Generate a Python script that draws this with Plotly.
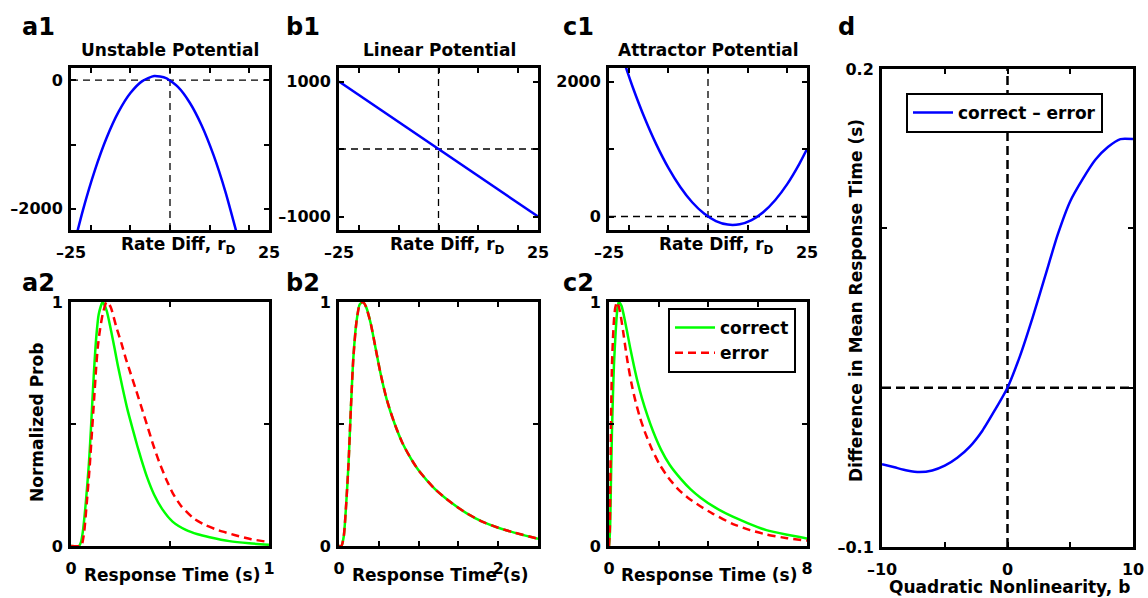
import plotly.graph_objects as go

W, H = 1148, 598
FONT = "DejaVu Sans"

# ---------------- data ----------------
# a1: unstable potential
rd_unstable = [-25, -22, -19, -16, -13, -10, -7, -4, -1, 2, 5, 8, 11, 14, 17]
u_unstable = [-2750, -2024, -1406, -896, -494, -200, -14, 64, 34, -104, -350, -704, -1166, -1736, -2414]
# b1: linear potential
rd_linear = [-25, 25]
u_linear = [1000, -1000]
# c1: attractor potential
rd_attr = [-22, -19, -16, -13, -10, -7, -4, -1, 2, 5, 8, 11, 14, 17, 20, 23, 25]
u_attr = [2429, 1915, 1459, 1061, 720, 437, 211, 43, -67, -120, -115, -53, 67, 245, 480, 773, 1000]

# a2: response-time distributions (unstable)
t_a_correct = [0, 0.04, 0.05, 0.06, 0.075, 0.09, 0.1, 0.107, 0.115, 0.128, 0.14, 0.16, 0.18, 0.203,
               0.22, 0.236, 0.26, 0.285, 0.313, 0.335, 0.355, 0.385, 0.42, 0.46, 0.513, 0.58,
               0.64, 0.70, 0.80, 0.90, 1.0]
p_a_correct = [0, 0, 0.015, 0.06, 0.18, 0.333, 0.47, 0.58, 0.70, 0.86, 0.95, 1.0, 0.965, 0.88,
               0.81, 0.742, 0.65, 0.56, 0.475, 0.41, 0.355, 0.28, 0.21, 0.152, 0.10, 0.066,
               0.048, 0.036, 0.02, 0.011, 0.005]
t_a_error = [0, 0.05, 0.058, 0.067, 0.08, 0.095, 0.106, 0.117, 0.128, 0.136, 0.145, 0.16, 0.18,
             0.20, 0.228, 0.255, 0.278, 0.30, 0.33, 0.363, 0.39, 0.413, 0.445, 0.48, 0.515,
             0.555, 0.62, 0.68, 0.746, 0.83, 0.91, 1.0]
p_a_error = [0, 0, 0.015, 0.06, 0.18, 0.333, 0.47, 0.606, 0.742, 0.82, 0.879, 0.95, 1.0,
             0.98, 0.90, 0.83, 0.765, 0.71, 0.635, 0.55, 0.48, 0.42, 0.345, 0.275, 0.215,
             0.165, 0.113, 0.085, 0.064, 0.044, 0.028, 0.016]

# b2: linear (correct and error identical)
t_b = [0, 0.03, 0.06, 0.09, 0.12, 0.15, 0.18, 0.22, 0.26, 0.30, 0.34, 0.40, 0.46, 0.52, 0.60,
       0.70, 0.80, 0.90, 1.0, 1.2, 1.4, 1.6, 1.8, 2.0, 2.2, 2.5]
p_b_correct = [0, 0, 0.04, 0.17, 0.34, 0.57, 0.77, 0.92, 0.99, 1.0, 0.98, 0.91, 0.81, 0.71, 0.60,
               0.50, 0.42, 0.36, 0.31, 0.235, 0.18, 0.135, 0.10, 0.075, 0.055, 0.03]
p_b_error = [0, 0, 0.04, 0.17, 0.34, 0.57, 0.77, 0.92, 0.99, 1.0, 0.98, 0.91, 0.81, 0.71, 0.60,
             0.50, 0.42, 0.36, 0.31, 0.235, 0.18, 0.135, 0.10, 0.075, 0.055, 0.03]

# c2: attractor
t_c_correct = [0, 0.04, 0.08, 0.12, 0.16, 0.2, 0.27, 0.33, 0.39, 0.5, 0.6, 0.73, 0.85, 1.0, 1.15,
               1.33, 1.55, 1.78, 2.1, 2.45, 2.9, 3.3, 3.7, 4.3, 5.0, 5.6, 6.36, 7.2, 8.0]
p_c_correct = [0, 0.06, 0.27, 0.47, 0.62, 0.742, 0.879, 0.965, 1.0, 0.985, 0.945, 0.879, 0.815,
               0.742, 0.675, 0.606, 0.535, 0.47, 0.395, 0.333, 0.275, 0.232, 0.198, 0.157, 0.12,
               0.094, 0.065, 0.046, 0.031]
t_c_error = [0, 0.03, 0.06, 0.09, 0.12, 0.16, 0.2, 0.25, 0.32, 0.4, 0.48, 0.57, 0.66, 0.75, 0.9,
             1.04, 1.24, 1.44, 1.72, 2.05, 2.4, 2.8, 3.2, 3.66, 4.2, 5.01, 5.7, 6.36, 7.2, 8.0]
p_c_error = [0, 0.06, 0.32, 0.57, 0.742, 0.85, 0.925, 0.975, 1.0, 0.98, 0.94, 0.88, 0.815, 0.755,
             0.67, 0.606, 0.53, 0.47, 0.40, 0.333, 0.28, 0.232, 0.197, 0.165, 0.132, 0.09, 0.065,
             0.047, 0.032, 0.022]

# d: difference in mean response time vs quadratic nonlinearity
b_vals = [-10, -9, -8, -7, -6, -5, -4, -3, -2, -1, 0, 1, 2, 3, 4, 5, 6, 7, 8, 9, 10]
d_rt = [-0.048, -0.050, -0.052, -0.053, -0.052, -0.049, -0.044, -0.037, -0.027, -0.014, 0.0,
        0.020, 0.044, 0.070, 0.096, 0.117, 0.131, 0.143, 0.151, 0.156, 0.156]

# tick labels
rd_ticks = [-25, -20, -10, 0, 10, 20, 25]
rd_ticktext = ["\u201325", "", "", "", "", "", "25"]

BLUE = "#0000ff"
GREEN = "#00ff00"
RED = "#ff0000"

fig = go.Figure()

def line(x, y, xa, ya, color, dash=None, width=2.5, name=None, legend=None, show=False):
    fig.add_trace(go.Scatter(
        x=x, y=y, xaxis=xa, yaxis=ya, mode="lines",
        line=dict(color=color, width=width, dash=dash, shape="spline", smoothing=0.6),
        name=name, showlegend=show, legend=legend, hoverinfo="skip"))

line(rd_unstable, u_unstable, "x", "y", BLUE)
line(rd_linear, u_linear, "x2", "y2", BLUE)
line(rd_attr, u_attr, "x3", "y3", BLUE)

line(t_a_correct, p_a_correct, "x4", "y4", GREEN)
line(t_a_error, p_a_error, "x4", "y4", RED, dash="8px,5px")
line(t_b, p_b_correct, "x5", "y5", GREEN)
line(t_b, p_b_error, "x5", "y5", RED, dash="8px,5px")
line(t_c_correct, p_c_correct, "x6", "y6", GREEN, name="correct", legend="legend", show=True)
line(t_c_error, p_c_error, "x6", "y6", RED, dash="8px,5px", name="error", legend="legend", show=True)

line(b_vals, d_rt, "x7", "y7", BLUE, name="correct \u2013 error", legend="legend2", show=True)

tickfont = dict(family=FONT, size=16, color="black", weight="bold")
common = dict(ticks="inside", ticklen=5, tickwidth=1.5, tickcolor="black",
              showline=True, linewidth=3, linecolor="black", mirror="ticks",
              showgrid=False, zeroline=False, tickfont=tickfont, fixedrange=True,
              automargin=False)

def xax(px0, px1, rng, tv, tt, anchor):
    return dict(domain=[px0 / W, px1 / W], range=rng, tickvals=tv, ticktext=tt,
                anchor=anchor, ticklabelstandoff=6, **common)

def yax(py0, py1, rng, tv, tt, anchor):
    return dict(domain=[1 - py1 / H, 1 - py0 / H], range=rng, tickvals=tv, ticktext=tt,
                anchor=anchor, ticklabelstandoff=2, **common)

TOP1, BOT1 = 68, 230
TOP2, BOT2 = 302, 546
AX = (71, 269)
BX = (339, 538)
CX = (609, 807)
DX = (882, 1133)

layout = dict(
    xaxis=xax(*AX, [-25, 25], rd_ticks, rd_ticktext, "y"),
    yaxis=yax(TOP1, BOT1, [-2330, 190], [-2000, -1000, 0], ["\u20132000", "", "0"], "x"),
    xaxis2=xax(*BX, [-25, 25], rd_ticks, rd_ticktext, "y2"),
    yaxis2=yax(TOP1, BOT1, [-1200, 1200], [-1000, 0, 1000], ["\u20131000", "", "1000"], "x2"),
    xaxis3=xax(*CX, [-25, 25], rd_ticks, rd_ticktext, "y3"),
    yaxis3=yax(TOP1, BOT1, [-200, 2200], [0, 1000, 2000], ["0", "", "2000"], "x3"),
    xaxis4=xax(*AX, [0, 1], [0, 0.5, 1], ["0", "", "1"], "y4"),
    yaxis4=yax(TOP2, BOT2, [0, 1], [0, 0.5, 1], ["0", "", "1"], "x4"),
    xaxis5=xax(*BX, [0, 2.5], [0, 0.5, 1, 1.5, 2], ["0", "", "", "", "2"], "y5"),
    yaxis5=yax(TOP2, BOT2, [0, 1], [0, 0.5, 1], ["0", "", "1"], "x5"),
    xaxis6=xax(*CX, [0, 8], [0, 2, 4, 6, 8], ["0", "", "", "", "8"], "y6"),
    yaxis6=yax(TOP2, BOT2, [0, 1], [0, 0.5, 1], ["0", "", "1"], "x6"),
    xaxis7=xax(*DX, [-10, 10], [-10, -5, 0, 5, 10], ["\u201310", "", "0", "", "10"], "y7"),
    yaxis7=yax(69, 547, [-0.1, 0.2], [-0.1, 0, 0.1, 0.2], ["\u20130.1", "", "", "0.2"], "x7"),
)

# dashed reference lines
shapes = []
def dash_lines(xr, yr, width=1.3, pattern="7px,5px"):
    shapes.append(dict(type="line", xref=xr, yref=yr + " domain", x0=0, x1=0, y0=0, y1=1,
                       line=dict(color="black", width=width, dash=pattern), layer="below"))
    shapes.append(dict(type="line", xref=xr + " domain", yref=yr, x0=0, x1=1, y0=0, y1=0,
                       line=dict(color="black", width=width, dash=pattern), layer="below"))
dash_lines("x", "y")
dash_lines("x2", "y2")
dash_lines("x3", "y3")
dash_lines("x7", "y7", width=2.5, pattern="9px,5px")

ann = []
def text(s, px, py, size=17, xanchor="center", angle=0):
    ann.append(dict(text=s, x=px / W, y=1 - py / H, xref="paper", yref="paper",
                    xanchor=xanchor, yanchor="middle", showarrow=False, textangle=angle,
                    font=dict(family=FONT, size=size, color="black", weight="bold")))

# panel letters
text("a1", 20, 27, size=24, xanchor="left")
text("b1", 284, 27, size=24, xanchor="left")
text("c1", 561, 27, size=24, xanchor="left")
text("d", 836, 27, size=24, xanchor="left")
text("a2", 20, 283, size=24, xanchor="left")
text("b2", 284, 283, size=24, xanchor="left")
text("c2", 561, 283, size=24, xanchor="left")

# titles
text("Unstable Potential", 170, 50)
text("Linear Potential", 439, 50)
text("Attractor Potential", 708, 50)

# x labels top row
text("Rate Diff, r<sub>D</sub>", 178, 246)
text("Rate Diff, r<sub>D</sub>", 447, 246)
text("Rate Diff, r<sub>D</sub>", 716, 246)

# x labels bottom row
text("Response Time (s)", 172, 575)
text("Response Time (s)", 440, 575)
text("Response Time (s)", 709, 575)
text("Normalized Prob", 37, 423, angle=-90)

# d labels
text("Quadratic Nonlinearity, b", 1009, 587)
text("Difference in Mean Response Time (s)", 856, 301, angle=-90)

legend_font = dict(family=FONT, size=17, color="black", weight="bold")
fig.update_layout(
    width=W, height=H, margin=dict(l=0, r=0, t=0, b=0),
    paper_bgcolor="white", plot_bgcolor="white",
    font=dict(family=FONT, size=17, color="black", weight="bold"),
    shapes=shapes, annotations=ann,
    legend=dict(x=668 / W, y=1 - 308 / H, xanchor="left", yanchor="top",
                bgcolor="white", bordercolor="black", borderwidth=2,
                font=legend_font, tracegroupgap=0, itemwidth=40),
    legend2=dict(x=906 / W, y=1 - 93 / H, xanchor="left", yanchor="top",
                 bgcolor="white", bordercolor="black", borderwidth=2,
                 font=legend_font, itemwidth=40),
    **layout,
)

fig.write_html("out.html", config={"displayModeBar": False},
               post_script="document.body.style.margin='0px';document.body.style.overflow='hidden';")
